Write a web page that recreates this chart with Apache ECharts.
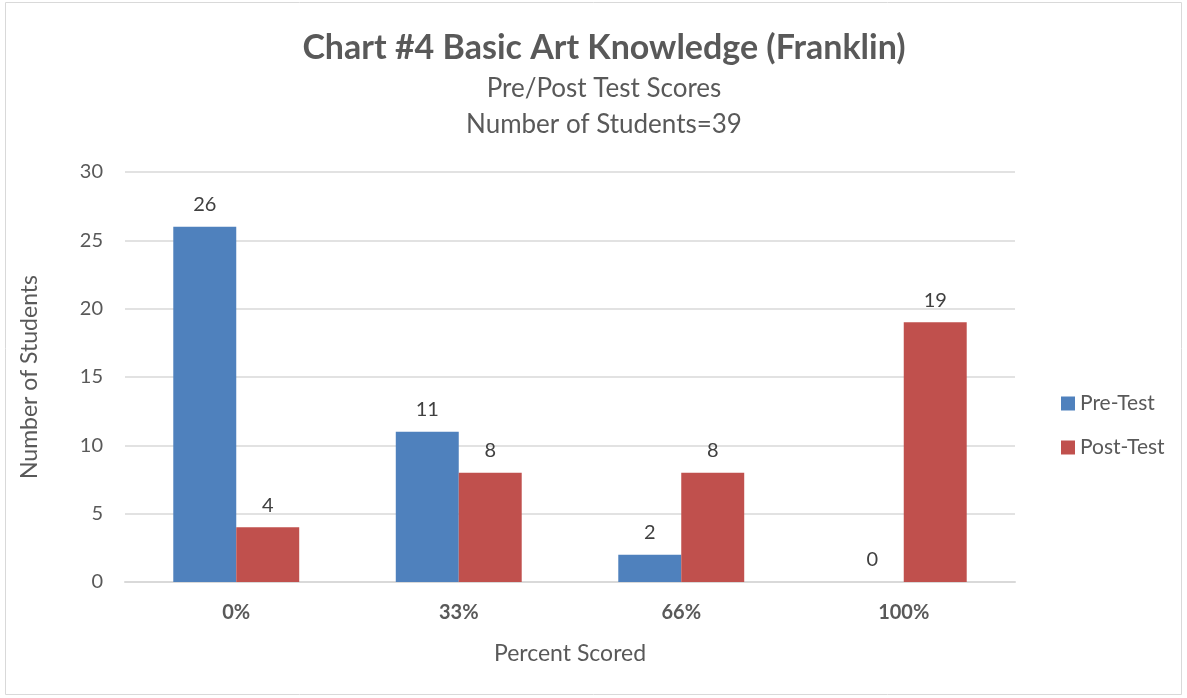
<!DOCTYPE html>
<html>
<head>
<meta charset="utf-8">
<script src="https://cdn.jsdelivr.net/npm/echarts@6/dist/echarts.min.js"></script>
<style>
  html, body { margin: 0; padding: 0; background: #fff; }
  #chart { width: 1187px; height: 698px; }
</style>
</head>
<body>
<div id="chart"></div>
<script>
var categories = ["0%", "33%", "66%", "100%"];
var preTest = [26, 11, 2, 0];
var postTest = [4, 8, 8, 19];
var yTicks = [0, 5, 10, 15, 20, 25, 30];

var font = "Lato";
var chart = echarts.init(document.getElementById("chart"));

var option = {
    animation: false,
    textStyle: {fontFamily: font},
    graphic: [{
        type: "rect",
        shape: {x: 5.5, y: 2.5, width: 1176, height: 692},
        style: {fill: "none", stroke: "#d9d9d9", lineWidth: 1}
    }],
    title: [
        {
            text: "Chart #4 Basic Art Knowledge (Franklin)",
            left: 599, top: 26, textAlign: "center",
            textStyle: {fontFamily: font, fontSize: 34, fontWeight: "bold", color: "#595959"}
        },
        {
            text: "Pre/Post Test Scores",
            left: 599, top: 71, textAlign: "center",
            textStyle: {fontFamily: font, fontSize: 26, fontWeight: "normal", color: "#595959"}
        },
        {
            text: "Number of Students=39",
            left: 599, top: 107, textAlign: "center",
            textStyle: {fontFamily: font, fontSize: 26, fontWeight: "normal", color: "#595959"}
        }
    ],
    legend: {
        orient: "vertical",
        left: 1056, top: 388,
        itemWidth: 14, itemHeight: 14,
        itemGap: 23,
        icon: "rect",
        textStyle: {fontFamily: font, fontSize: 21, color: "#595959"},
        data: ["Pre-Test", "Post-Test"]
    },
    grid: {left: 125, right: 172, top: 172, bottom: 116},
    xAxis: {
        type: "category",
        data: categories,
        name: "Percent Scored",
        nameLocation: "middle",
        nameGap: 60,
        nameTextStyle: {fontFamily: font, fontSize: 23, color: "#595959"},
        axisLine: {lineStyle: {color: "#d9d9d9", width: 2}},
        axisTick: {show: false},
        axisLabel: {fontFamily: font, fontSize: 20, fontWeight: "bold", color: "#595959", margin: 21}
    },
    yAxis: {
        type: "value",
        min: yTicks[0],
        max: yTicks[yTicks.length - 1],
        interval: 5,
        name: "Number of Students",
        nameLocation: "middle",
        nameGap: 84,
        nameTextStyle: {fontFamily: font, fontSize: 23, color: "#595959"},
        axisLine: {show: false},
        axisTick: {show: false},
        axisLabel: {fontFamily: font, fontSize: 20, color: "#595959", margin: 22},
        splitLine: {lineStyle: {color: "#d9d9d9", width: 1.5}}
    },
    series: [
        {
            name: "Pre-Test",
            type: "bar",
            data: preTest,
            barWidth: "28.3%",
            barGap: "0%",
            itemStyle: {color: "#4f81bd"},
            label: {show: true, position: "top", distance: 12, fontFamily: font, fontSize: 20, color: "#404040"}
        },
        {
            name: "Post-Test",
            type: "bar",
            data: postTest,
            barWidth: "28.3%",
            itemStyle: {color: "#c0504d"},
            label: {show: true, position: "top", distance: 12, fontFamily: font, fontSize: 20, color: "#404040"}
        }
    ]
};

chart.setOption(option);
</script>
</body>
</html>
